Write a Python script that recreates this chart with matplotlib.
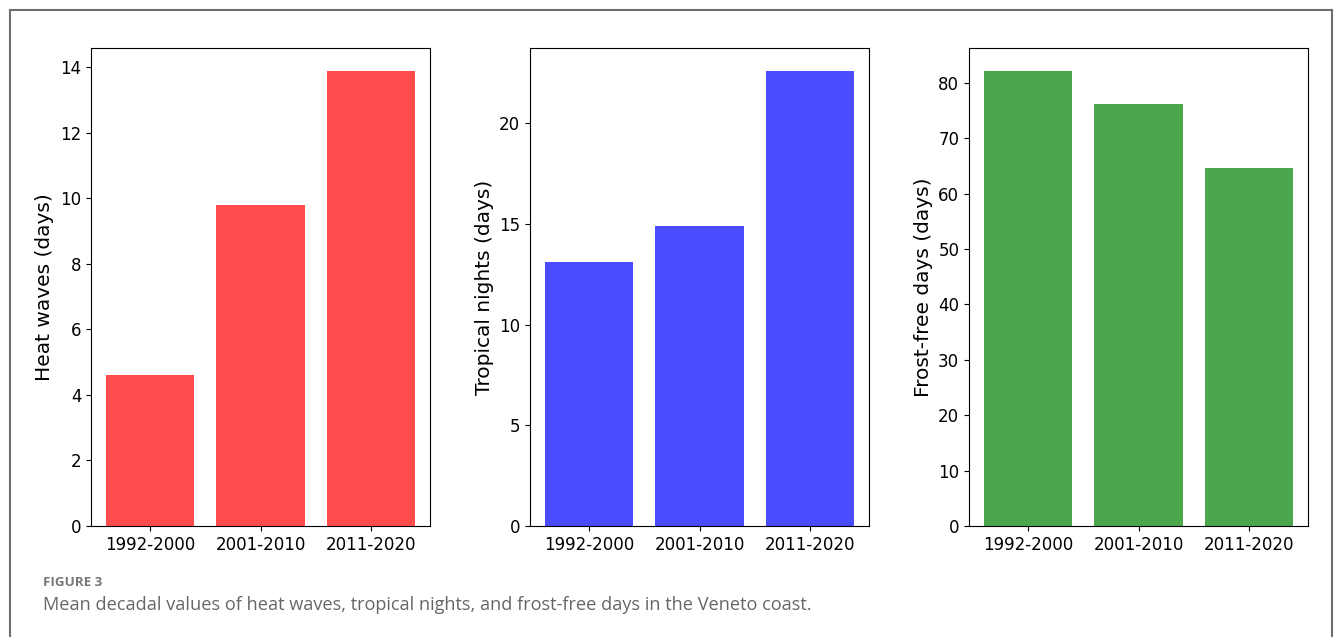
import matplotlib
matplotlib.use("Agg")
import matplotlib.pyplot as plt
from matplotlib.lines import Line2D

plt.rcParams["font.family"] = "DejaVu Sans"

decades = ["1992-2000", "2001-2010", "2011-2020"]
heat_waves = [4.6, 9.8, 13.9]
tropical_nights = [13.1, 14.9, 22.6]
frost_free = [82.2, 76.2, 64.6]

panels = [
    (heat_waves, "red", "Heat waves (days)"),
    (tropical_nights, "blue", "Tropical nights (days)"),
    (frost_free, "green", "Frost-free days (days)"),
]

fig = plt.figure(figsize=(13.35, 6.37), dpi=100)

lefts = [91, 530, 969]
for left, (vals, col, lab) in zip(lefts, panels):
    ax = fig.add_axes([left / 1335, 111 / 637, 339 / 1335, 478 / 637])
    ax.bar(decades, vals, color=col, alpha=0.7)
    ax.set_ylabel(lab, fontsize=14.5)
    ax.tick_params(labelsize=12)

# outer frame around the figure block
kw = dict(color="#6e6e6e", lw=1.5, transform=fig.transFigure)
fig.add_artist(Line2D([10 / 1335, 10 / 1335], [-0.1, 1 - 10 / 637], **kw))
fig.add_artist(Line2D([10 / 1335, 1332 / 1335], [1 - 10 / 637, 1 - 10 / 637], **kw))
fig.add_artist(Line2D([1332 / 1335, 1332 / 1335], [-0.1, 1 - 10 / 637], **kw))

fig.text(43 / 1335, 1 - 582 / 637, "FIGURE 3", fontsize=9.6, color="#777777",
         family="Open Sans", weight="bold", va="center")
fig.text(43 / 1335, 1 - 605 / 637,
         "Mean decadal values of heat waves, tropical nights, and frost-free days in the Veneto coast.",
         fontsize=13.05, color="#666666", family="Open Sans", va="center")

fig.savefig("out.png", dpi=100)
